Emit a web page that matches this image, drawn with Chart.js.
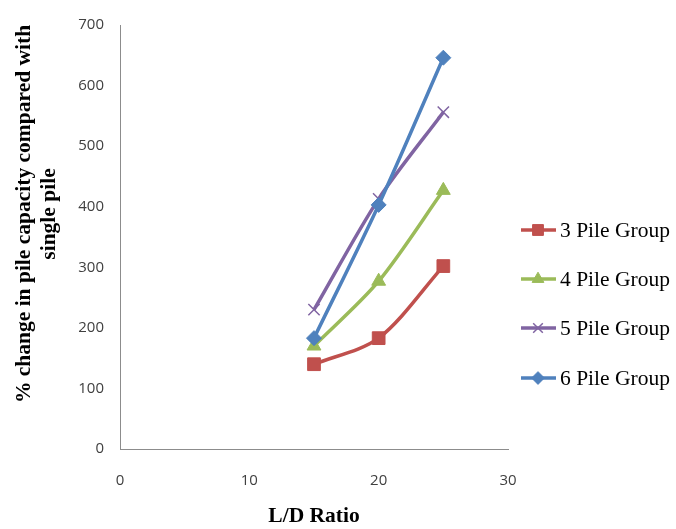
<!DOCTYPE html>
<html>
<head>
<meta charset="utf-8">
<script src="https://cdn.jsdelivr.net/npm/chart.js@4"></script>
<style>
  html, body { margin: 0; padding: 0; background: #fff; }
  #wrap { width: 676px; height: 529px; position: relative; }
</style>
</head>
<body>
<div id="wrap"><canvas id="chart"></canvas></div>
<script>
const ldRatio = [15, 20, 25];
const pile3 = [140, 183, 302];
const pile4 = [170, 277, 427];
const pile5 = [230, 413, 556];
const pile6 = [183, 403, 646];
const seriesNames = ['3 Pile Group', '4 Pile Group', '5 Pile Group', '6 Pile Group'];
const yTitle = ['% change in pile capacity compared with', 'single pile'];

const serif = '"Liberation Serif", "Times New Roman", serif';
const sans = '"Open Sans", "Liberation Sans", sans-serif';

function toPoints(ys) {
  return ys.map((y, i) => ({ x: ldRatio[i], y }));
}

function series(label, ys, color, style, radius, order) {
  return {
    label,
    data: toPoints(ys),
    borderColor: color,
    backgroundColor: color,
    pointBackgroundColor: color,
    pointBorderColor: color,
    pointStyle: style,
    pointRadius: radius,
    pointBorderWidth: style === 'crossRot' ? 1.5 : 1,
    borderWidth: 3.5,
    tension: 0.3,
    order,
  };
}

// legend drawn on the canvas: line with marker, then serif text
const sideLegend = {
  id: 'sideLegend',
  afterDraw(chart) {
    const ctx = chart.ctx;
    const rows = [230, 279, 328, 378];
    chart.data.datasets.forEach((ds, i) => {
      const y = rows[i];
      ctx.save();
      ctx.strokeStyle = ds.borderColor;
      ctx.lineWidth = 3.5;
      ctx.beginPath();
      ctx.moveTo(521, y);
      ctx.lineTo(556, y);
      ctx.stroke();
      ctx.fillStyle = ds.backgroundColor;
      ctx.strokeStyle = ds.borderColor;
      ctx.lineWidth = ds.pointBorderWidth;
      Chart.helpers.drawPoint(ctx, { pointStyle: ds.pointStyle, radius: ds.pointRadius * 0.85, borderWidth: ds.pointBorderWidth }, 538, y);
      ctx.fillStyle = '#000';
      ctx.font = '21.5px ' + serif;
      ctx.textBaseline = 'middle';
      ctx.fillText(ds.label, 560, y + 1);
      ctx.restore();
    });
  }
};

// y title sits a little above the plot centre, as in the original
const sideTitle = {
  id: 'sideTitle',
  afterDraw(chart) {
    const ctx = chart.ctx;
    ctx.save();
    ctx.translate(0, 214);
    ctx.rotate(-Math.PI / 2);
    ctx.fillStyle = '#000';
    ctx.font = 'bold 21.5px ' + serif;
    ctx.textAlign = 'center';
    ctx.textBaseline = 'middle';
    ctx.fillText(yTitle[0], 0, 24);
    ctx.fillText(yTitle[1], 0, 49);
    ctx.restore();
  }
};

new Chart(document.getElementById('chart'), {
  type: 'line',
  data: {
    datasets: [
      series(seriesNames[0], pile3, '#C0504D', 'rect', 9, 4),
      series(seriesNames[1], pile4, '#9BBB59', 'triangle', 8, 3),
      series(seriesNames[2], pile5, '#8064A2', 'crossRot', 8, 2),
      series(seriesNames[3], pile6, '#4F81BD', 'rectRot', 7.5, 1),
    ],
  },
  options: {
    responsive: true,
    maintainAspectRatio: false,
    animation: false,
    layout: { padding: { top: 20, right: 168, left: 0, bottom: 0 } },
    plugins: {
      legend: { display: false },
      tooltip: { enabled: false },
    },
    scales: {
      x: {
        type: 'linear',
        min: 0,
        max: 30,
        ticks: { stepSize: 10, color: '#404040', font: { family: sans, size: 15 }, padding: 23 },
        grid: { display: false, drawTicks: false },
        border: { display: true, color: '#8c8c8c', width: 1 },
        title: {
          display: true,
          text: 'L/D Ratio',
          color: '#000',
          font: { family: serif, size: 21.5, weight: 'bold' },
          padding: { top: 0, bottom: 0 },
        },
        afterFit(scale) { scale.height = 80; },
      },
      y: {
        min: 0,
        max: 700,
        ticks: { stepSize: 100, color: '#404040', font: { family: sans, size: 15 }, padding: 16 },
        grid: { display: false, drawTicks: false },
        border: { display: true, color: '#8c8c8c', width: 1 },
        afterFit(scale) { scale.width = 120; },
      },
    },
  },
  plugins: [sideLegend, sideTitle],
});
</script>
</body>
</html>
